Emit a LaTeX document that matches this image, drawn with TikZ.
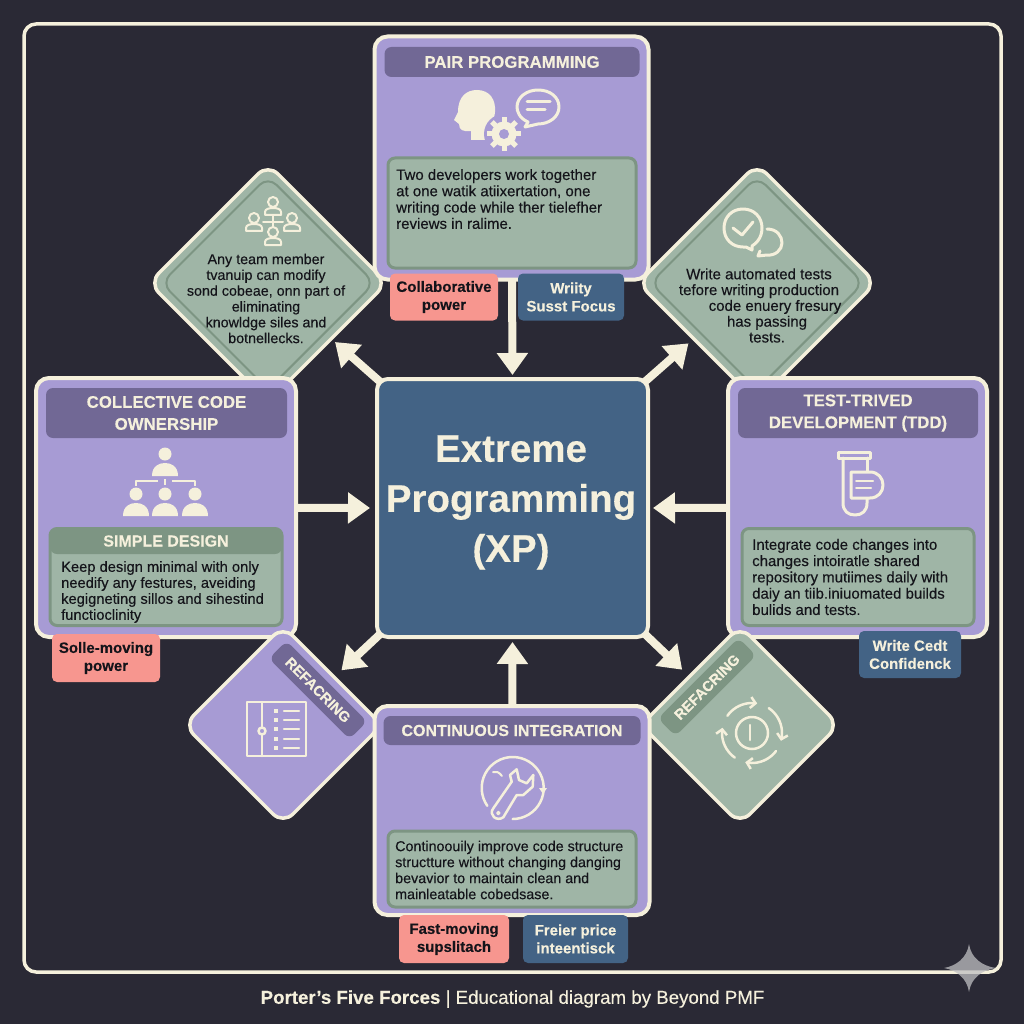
\documentclass[tikz,border=0pt]{standalone}
\usepackage{fontspec}
\setmainfont[FakeBold=0.25]{Liberation Sans}
\usetikzlibrary{arrows.meta,shapes.geometric}
\definecolor{bg_dark}{HTML}{2A2935}
\definecolor{cream}{HTML}{F5F0DC}
\definecolor{lilac}{HTML}{A79BD4}
\definecolor{lilac_dark}{HTML}{716895}
\definecolor{sage}{HTML}{9FB5A6}
\definecolor{sage_dark}{HTML}{7D9583}
\definecolor{salmon}{HTML}{F7968F}
\definecolor{steel}{HTML}{436385}
\definecolor{ink}{HTML}{14141A}
\begin{document}
\begin{tikzpicture}[x=1pt,y=-1pt]
	\tikzstyle{card_style} = [draw=cream,line width=4pt,fill=lilac,rounded corners=13pt,inner sep=0pt,outer sep=0pt]
	\tikzstyle{head_style} = [fill=lilac_dark,rounded corners=7pt,inner sep=0pt,text=cream,align=center,font=\fontsize{16.8}{22}\selectfont\bfseries]
	\tikzstyle{box_style} = [draw=sage_dark,line width=3pt,fill=sage,rounded corners=7pt,inner sep=0pt]
	\tikzstyle{body_style} = [text=ink,align=left,anchor=west,inner sep=0pt,font=\fontsize{15}{16.3}\selectfont]
	\tikzstyle{dia_style} = [diamond,aspect=1,draw=cream,line width=3.5pt,fill=sage,rounded corners=14pt,inner sep=0pt,outer sep=0pt]
	\tikzstyle{inner_style} = [diamond,aspect=1,draw=sage_dark,line width=2pt,rounded corners=12pt,inner sep=0pt]
	\tikzstyle{mid_style} = [text=ink,align=center,inner sep=0pt,font=\fontsize{14.3}{15.8}\selectfont]
	\tikzstyle{band_style} = [rounded corners=7pt,inner sep=0pt,minimum width=114pt,minimum height=25pt,text=cream,font=\fontsize{14.5}{15}\selectfont\bfseries]
	\tikzstyle{tag_style} = [rounded corners=5pt,inner sep=0pt,align=center,font=\fontsize{15}{18}\selectfont\bfseries]
	\tikzstyle{edge_style} = [draw=cream,line width=8pt,-{Triangle[length=22pt,width=30pt]}]
	\tikzstyle{icon_style} = [draw=cream,line width=3pt,line cap=round,line join=round]
	\useasboundingbox (0,0) rectangle (1024,1024);
	\fill[bg_dark] (0,0) rectangle (1024,1024);
	\node[draw=cream,line width=3.5pt,rounded corners=12pt,inner sep=0pt,minimum width=977pt,minimum height=948pt] (frame) at (512.5,498) {};

	% upper diamonds
	\node[dia_style,minimum size=238pt] (owner_dia) at (268,283) {};
	\node[inner_style,minimum size=214pt] (owner_line) at (268,283) {};
	\node[dia_style,minimum size=238pt] (test_dia) at (757,283) {};
	\node[inner_style,minimum size=214pt] (test_line) at (757,283) {};
	\node[mid_style] (owner_text) at (266,298.5) {Any team member\\tvanuip can modify\\sond cobeae, onn part of\\eliminating\\knowldge siles and\\botnellecks.};
	\node[mid_style,font=\fontsize{15}{15.8}\selectfont] (test_text) at (759,305.5) {Write automated tests\\tefore writing production\\\hspace*{32pt}code enuery fresury\\\hspace*{16pt}has passing\\\hspace*{16pt}tests.};

	% cards
	\node[card_style,minimum width=274pt,minimum height=243pt] (pair) at (511.5,158) {};
	\node[head_style,minimum width=255pt,minimum height=30pt] (pair_head) at (512,62) {PAIR PROGRAMMING};
	\node[box_style,minimum width=248pt,minimum height=110pt] (pair_box) at (512,213) {};
	\node[body_style] (pair_text) at (396,199) {Two developers work together\\at one watik atiixertation, one\\writing code while ther tielefher\\reviews in ralime.};

	\node[card_style,minimum width=260pt,minimum height=259pt] (coll) at (166,507.5) {};
	\node[head_style,minimum width=241pt,minimum height=50pt] (coll_head) at (166.5,413) {COLLECTIVE CODE\\OWNERSHIP};
	\node[box_style,minimum width=232pt,minimum height=97pt] (coll_box) at (166,577) {};
	\node[fill=sage_dark,rounded corners=7pt,inner sep=0pt,minimum width=232pt,minimum height=26pt,text=cream,font=\fontsize{16}{16}\selectfont\bfseries] (coll_sub) at (166,541) {SIMPLE DESIGN};
	\node[body_style,font=\fontsize{14.7}{16}\selectfont] (coll_text) at (61,592) {Keep design minimal with only\\needify any festures, aveiding\\kegigneting sillos and sihestind\\functioclinity};

	\node[card_style,minimum width=259pt,minimum height=259pt] (tdd) at (857.5,507.5) {};
	\node[head_style,minimum width=240pt,minimum height=50pt] (tdd_head) at (858,413) {TEST-TRIVED\\DEVELOPMENT (TDD)};
	\node[box_style,minimum width=232pt,minimum height=97pt] (tdd_box) at (858,577) {};
	\node[body_style] (tdd_text) at (752,577) {Integrate code changes into\\changes intoiratle shared\\repository mutiimes daily with\\daiy an tiib.iniuomated builds\\bulids and tests.};

	% lower diamonds
	\node[dia_style,fill=lilac,minimum size=198pt] (ref_left) at (283,725) {};
	\node[band_style,fill=lilac_dark,rotate=-45] (ref_left_band) at (318,690) {REFACRING};
	\node[dia_style,minimum size=198pt] (ref_right) at (740,725) {};
	\node[band_style,fill=sage_dark,rotate=45] (ref_right_band) at (707,687) {REFACRING};

	\node[card_style,minimum width=275pt,minimum height=209pt] (cont) at (512,810.5) {};
	\node[head_style,minimum width=257pt,minimum height=29pt,font=\fontsize{16}{20}\selectfont\bfseries] (cont_head) at (512,730.5) {CONTINUOUS INTEGRATION};
	\node[box_style,minimum width=248pt,minimum height=76pt] (cont_box) at (512,869) {};
	\node[body_style,font=\fontsize{14.3}{16}\selectfont] (cont_text) at (395,870) {Continoouily improve code structure\\structture without changing danging\\bevavior to maintain clean and\\mainleatable cobedsase.};

	% centre
	\node[draw=cream,line width=4pt,fill=steel,rounded corners=11pt,inner sep=0pt,outer sep=0pt,minimum width=271pt,minimum height=258pt] (xp) at (512.5,508) {};
	\node[text=cream,align=center,inner sep=0pt,font=\fontsize{38.5}{50}\selectfont\bfseries] (xp_text) at (511,502.5) {Extreme\\Programming\\(XP)};

	% arrows
	\draw[edge_style,shorten >=4pt] (pair) -- (xp.north);
	\draw[edge_style,shorten >=5pt] (cont) -- (xp.south);
	\draw[edge_style,shorten >=7pt] (coll) -- (xp.west);
	\draw[edge_style,shorten >=5pt] (tdd) -- (xp.east);
	\draw[edge_style,shorten <=-6pt,shorten >=5pt] (xp.north west) -- (owner_dia);
	\draw[edge_style,shorten <=-6pt,shorten >=7pt] (xp.north east) -- (test_dia);
	\draw[edge_style,shorten <=-6pt,shorten >=10pt] (xp.south west) -- (ref_left);
	\draw[edge_style,shorten <=-6pt,shorten >=10pt] (xp.south east) -- (ref_right);

	% tags
	\node[tag_style,fill=salmon,text=ink,minimum width=108pt,minimum height=47pt] (tag_a) at (444,297) {Collaborative\\power};
	\node[tag_style,fill=steel,text=cream,minimum width=106pt,minimum height=47pt] (tag_b) at (571,297) {Wriity\\Susst Focus};
	\node[tag_style,fill=salmon,text=ink,minimum width=108pt,minimum height=48pt] (tag_c) at (106,658) {Solle-moving\\power};
	\node[tag_style,fill=steel,text=cream,minimum width=102pt,minimum height=47pt] (tag_d) at (910,654.5) {Write Cedt\\Confidenck};
	\node[tag_style,fill=salmon,text=ink,minimum width=110pt,minimum height=48pt] (tag_e) at (454,939) {Fast-moving\\supslitach};
	\node[tag_style,fill=steel,text=cream,minimum width=105pt,minimum height=48pt] (tag_f) at (575.5,939) {Freier price\\inteentisck};

	% icon: head, gear and bubble
	\fill[cream] (471,140) -- (471,131) .. controls (463,132) and (459,130) .. (459,124) -- (454,120) -- (458,112) .. controls (458,96) and (467,90) .. (477,90) .. controls (490,90) and (496,100) .. (495,112) .. controls (494,122) and (490,126) .. (488,131) -- (488,140) -- cycle;
	\fill[lilac] (504,134) circle (20);
	\foreach \a in {0,45,...,315}
		\draw[cream,line width=5pt,shift={(504,134)}] (0,0) -- ({17*cos(\a)},{17*sin(\a)});
	\fill[cream] (504,134) circle (12.5);
	\fill[lilac] (504,134) circle (5);
	\draw[icon_style] (525,127) -- (528,122) .. controls (519,118) and (517,111) .. (517,107) .. controls (517,97) and (527,90) .. (538,90) .. controls (550,90) and (559,97) .. (559,107) .. controls (559,117) and (549,124) .. (538,124) -- cycle;
	\draw[icon_style] (527,102) -- (550,102) (527,110) -- (545,110);

	% icon: four people
	\foreach \px/\py in {273/202,254/218,292/218,273/232} {
		\draw[icon_style,line width=2pt,shift={(\px,\py)}] (0,0) circle (5);
		\draw[icon_style,line width=2pt,shift={(\px,\py)}] (-8,13) -- (-8,10) .. controls (-8,7) and (-4,6) .. (0,6) .. controls (4,6) and (8,7) .. (8,10) -- (8,13) -- cycle;
	}
	\draw[icon_style,line width=2pt] (263,222) -- (283,222) (273,216) -- (273,226);

	% icon: check bubbles
	\draw[icon_style] (743,247) .. controls (732,247) and (724,239) .. (724,228) .. controls (724,217) and (732,209) .. (743,209) .. controls (754,209) and (762,217) .. (762,228) .. controls (762,239) and (755,244) .. (752,246) -- (752,250) -- (746,247) -- cycle;
	\draw[icon_style] (733,228) -- (742,235) -- (753,222);
	\draw[icon_style] (767,229) .. controls (777,229) and (782,236) .. (782,243) .. controls (782,250) and (775,256) .. (767,255) -- (758,256) -- (760,251);

	% icon: hierarchy
	\foreach \px/\py in {165/454,136/494,165/494,195/494} {
		\fill[cream,shift={(\px,\py)}] (0,0) circle (6.5);
		\fill[cream,shift={(\px,\py)}] (-13,22) .. controls (-13,12) and (-6,9) .. (0,9) .. controls (6,9) and (13,12) .. (13,22) -- cycle;
	}
	\draw[icon_style,line width=2.5pt,line cap=butt] (136,486) -- (136,481) -- (158,481) (195,486) -- (195,481) -- (172,481) (165,479) -- (165,485);

	% icon: test tube
	\draw[icon_style] (838,452) -- (870,452) -- (870,458) -- (838,458) -- cycle;
	\draw[icon_style] (843,458) -- (843,503) .. controls (843,511) and (848,515) .. (855,515) .. controls (862,515) and (867,511) .. (867,503) -- (867,498);
	\draw[icon_style] (867,458) -- (867,472);
	\draw[icon_style,fill=lilac] (851,472) -- (870,472) .. controls (878,472) and (883,478) .. (883,485) .. controls (883,492) and (878,498) .. (870,498) -- (851,498) -- cycle;
	\draw[icon_style,line width=2pt] (856,481) -- (873,481) (856,488) -- (871,488);

	% icon: wrench in a circle
	\draw[icon_style,line width=2.5pt] plot[domain=145:450,samples=40,smooth] ({512.7+31*cos(\x)},{788+31*sin(\x)});
	\fill[cream] (539,788) -- (547,788) -- (543,794) -- cycle;
	\draw[icon_style,line width=2pt] (493,772) .. controls (496,771) and (499,772) .. (502,776);
	\draw[icon_style,line width=2.5pt,fill=lilac] (493.3,808.3) -- (511.7,781.7) -- (510,775) -- (516.7,769.3) -- (519,780) -- (526.7,783.3) -- (533.3,775) -- (532.7,786.7) -- (523.3,795) -- (516.7,795) -- (503.3,817.3) .. controls (497,822) and (488,815) .. (493.3,808.3) -- cycle;
	\draw[icon_style,line width=1.5pt] (498.3,813) circle (1.5);

	% icon: list panel
	\draw[icon_style,line width=2.5pt,line cap=butt] (247,702) rectangle (306,756);
	\draw[icon_style,line width=2.5pt] (262,702) -- (262,756);
	\draw[icon_style,line width=2.5pt,fill=lilac] (262,731) circle (3.5);
	\foreach \ly in {711,720,729,739,748} {
		\fill[cream] (274,{\ly-2}) rectangle (278,{\ly+2});
		\draw[icon_style,line width=2.5pt] (284,\ly) -- (299,\ly);
	}

	% icon: refresh ring
	\draw[icon_style,line width=2.5pt] (752,733) circle (16);
	\draw[icon_style,line width=2.5pt] (750,725) -- (750,740);
	\foreach \from/\to in {-145/-80,-56/15,37/103,125/190}
		\draw[icon_style,line width=2.5pt,-{Straight Barb[length=5pt,width=11pt]}] plot[domain=\from:\to,samples=12,smooth] ({752+30*cos(\x)},{733+30*sin(\x)});

	% sparkle and footer
	\fill[white!70!bg_dark,opacity=.75] (969,944) .. controls (971,958) and (982,966) .. (996,968) .. controls (982,970) and (971,978) .. (969,992) .. controls (967,978) and (956,970) .. (944,968) .. controls (956,966) and (967,958) .. (969,944) -- cycle;
	\node[text=cream,inner sep=0pt,font=\fontsize{18.7}{22}\selectfont] (footer) at (512.5,999) {\textbf{Porter's Five Forces} | Educational diagram by Beyond PMF};
\end{tikzpicture}
\end{document}
